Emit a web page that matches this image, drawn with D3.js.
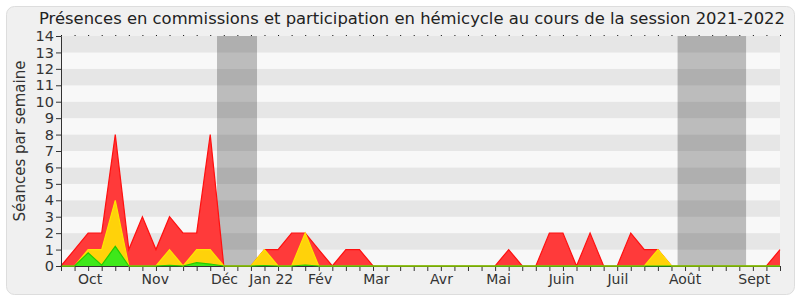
<!DOCTYPE html>
<html>
<head>
<meta charset="utf-8">
<script src="https://cdn.jsdelivr.net/npm/d3@7"></script>
<style>
  body { margin: 0; background: #fff; }
  svg { display: block; font-family: "DejaVu Sans", sans-serif; }
</style>
</head>
<body>
<svg id="chart" width="800" height="300"></svg>
<script>
// weekly values, week 0 = mid september 2021 ... week 53 = mid september 2022
var hemicycle = [0, 1, 2, 2, 8, 1, 3, 1, 3, 2, 2, 8, 0, 0, 0, 1, 1, 2, 2, 1,
                 0, 1, 1, 0, 0, 0, 0, 0, 0, 0, 0, 0, 0, 1, 0, 0, 2, 2, 0, 2,
                 0, 0, 2, 1, 1, 0, 0, 0, 0, 0, 0, 0, 0, 1];
var commissions = [0, 0, 1, 1, 4, 0, 0, 0, 1, 0, 1, 1, 0, 0, 0, 1, 0, 0, 2, 0,
                   0, 0, 0, 0, 0, 0, 0, 0, 0, 0, 0, 0, 0, 0, 0, 0, 0, 0, 0, 0,
                   0, 0, 0, 0, 1, 0, 0, 0, 0, 0, 0, 0, 0, 0];
var presences = [0, 0, 0.8, 0.05, 1.2, 0, 0, 0, 0.04, 0, 0.2, 0.12, 0, 0, 0, 0.03, 0, 0, 0.06, 0,
                 0, 0, 0, 0, 0, 0, 0, 0, 0, 0, 0, 0, 0, 0, 0, 0, 0, 0, 0, 0,
                 0, 0, 0, 0, 0, 0, 0, 0, 0, 0, 0, 0, 0, 0];
var monthLabels = ["Oct", "Nov", "Déc", "Jan 22", "Fév", "Mar", "Avr", "Mai", "Juin", "Juil", "Août", "Sept"];
var monthWeeks = [2.15, 6.95, 12.05, 15.5, 19.1, 23.25, 28.05, 32.25, 36.9, 41.05, 46.0, 51.1];
var vacances = [[11.5, 14.45], [45.45, 50.5]];
var yTicks = [0, 1, 2, 3, 4, 5, 6, 7, 8, 9, 10, 11, 12, 13, 14];

var svg = d3.select("svg#chart"),
    margin = {top: 36, right: 20, bottom: 34, left: 61},
    width = +svg.attr("width") - margin.left - margin.right,
    height = +svg.attr("height") - margin.top - margin.bottom;

svg.append("rect")
    .attr("x", 6.5).attr("y", 6.5)
    .attr("width", 788).attr("height", 288)
    .attr("rx", 8)
    .attr("fill", "#f0f0f0")
    .attr("stroke", "#dddddd");

svg.append("text")
    .attr("x", 412).attr("y", 24)
    .attr("text-anchor", "middle")
    .attr("fill", "#222")
    .style("font-size", "16.4px")
    .text("Présences en commissions et participation en hémicycle au cours de la session 2021-2022");

var g = svg.append("g").attr("transform", "translate(" + margin.left + "," + margin.top + ")");

var x = d3.scaleLinear().domain([0, hemicycle.length - 1]).range([0, width]);
var y = d3.scaleLinear().domain([0, 14]).range([height, 0]);

// stripes
g.selectAll(".stripe")
    .data(yTicks.slice(0, -1))
    .enter().append("rect")
      .attr("class", "stripe")
      .attr("x", 0)
      .attr("y", function(d) { return y(d + 1); })
      .attr("width", width)
      .attr("height", function(d) { return y(d) - y(d + 1); })
      .attr("fill", function(d) { return d % 2 ? "#e6e6e6" : "#f8f8f8"; });

// vacation bands
g.selectAll(".vac")
    .data(vacances)
    .enter().append("rect")
      .attr("class", "vac")
      .attr("x", function(d) { return x(d[0]); })
      .attr("y", 0)
      .attr("width", function(d) { return x(d[1]) - x(d[0]); })
      .attr("height", height)
      .attr("fill", "#000")
      .attr("fill-opacity", 0.24);

var area = d3.area()
    .x(function(d, i) { return x(i); })
    .y0(y(0))
    .y1(function(d) { return y(d); });
var line = d3.line()
    .x(function(d, i) { return x(i); })
    .y(function(d) { return y(d); });

var series = [
  {values: hemicycle, fill: "#ff3a3a", stroke: "#ff1010"},
  {values: commissions, fill: "#ffd20a", stroke: "#ffe600"},
  {values: presences, fill: "#3ee81a", stroke: "#22cc00"}
];

// axis line under the areas
var xAxis = g.append("g")
    .attr("transform", "translate(0," + height + ")")
    .call(d3.axisBottom(x).tickValues(d3.range(hemicycle.length)).tickSize(5).tickFormat(""));
xAxis.select(".domain").attr("stroke", "#333");
xAxis.selectAll(".tick line").attr("stroke", "#333");

series.forEach(function(s) {
  g.append("path")
      .datum(s.values)
      .attr("d", area)
      .attr("fill", s.fill);
  g.append("path")
      .datum(s.values)
      .attr("d", line)
      .attr("fill", "none")
      .attr("stroke", s.stroke)
      .attr("stroke-width", 1.2);
});

var topAxis = g.append("g")
    .call(d3.axisTop(x).tickValues(d3.range(hemicycle.length)).tickSize(1).tickFormat(""));
topAxis.select(".domain").remove();
topAxis.selectAll(".tick line").attr("stroke", "#111");

g.selectAll(".month")
    .data(monthLabels)
    .enter().append("text")
      .attr("class", "month")
      .attr("x", function(d, i) { return x(monthWeeks[i]); })
      .attr("y", height + 18)
      .attr("text-anchor", "middle")
      .attr("fill", "#333")
      .style("font-size", "14px")
      .text(function(d) { return d; });

var yAxis = g.append("g")
    .call(d3.axisLeft(y).tickValues(yTicks).tickSize(5).tickPadding(2));
yAxis.select(".domain").attr("stroke", "#333");
yAxis.selectAll(".tick line").attr("stroke", "#333");
yAxis.selectAll(".tick text")
    .attr("fill", "#333")
    .style("font-size", "14.5px")
    .style("font-family", "DejaVu Sans, sans-serif");

svg.append("text")
    .attr("transform", "translate(25," + (margin.top + height / 2 - 10) + ") rotate(-90)")
    .attr("text-anchor", "middle")
    .attr("fill", "#333")
    .style("font-size", "15px")
    .text("Séances par semaine");
</script>
</body>
</html>
